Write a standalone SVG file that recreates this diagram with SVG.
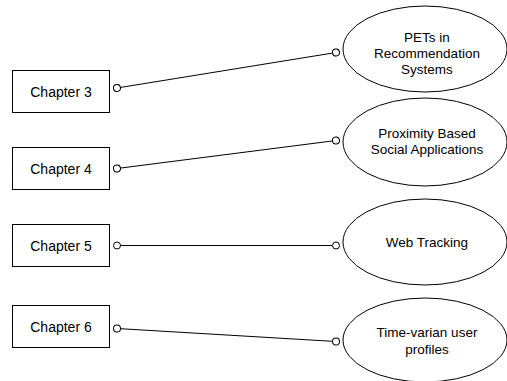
<svg xmlns="http://www.w3.org/2000/svg" width="507" height="381" viewBox="0 0 507 381">
  <style>
    .box { fill: #ffffff; stroke: #000000; stroke-width: 1; }
    .oval { fill: #ffffff; stroke: #000000; stroke-width: 1; }
    .lbl { font-family: "Liberation Sans", Arial, Helvetica, sans-serif; fill: #000000; text-anchor: middle; }
    .chap { font-size: 14px; }
    .topic { font-size: 13.5px; }
    .link { fill: none; stroke: #000000; stroke-width: 1; marker-start: url(#dot); marker-end: url(#dot); }
  </style>
  <defs>
    <marker id="dot" viewBox="-5 -5 10 10" markerWidth="10" markerHeight="10" refX="0" refY="0" markerUnits="userSpaceOnUse" orient="auto">
      <circle cx="0" cy="0" r="3.5" fill="#ffffff" stroke="#000000" stroke-width="1"/>
    </marker>
  </defs>
  <rect width="507" height="381" fill="#ffffff"/>

  <!-- chapter boxes -->
  <g id="chapter3">
    <rect class="box" x="12.5" y="70.5" width="97" height="42"/>
    <text class="lbl chap" x="61" y="96.5">Chapter 3</text>
  </g>
  <g id="chapter4">
    <rect class="box" x="12.5" y="147.5" width="97" height="42"/>
    <text class="lbl chap" x="61" y="173.5">Chapter 4</text>
  </g>
  <g id="chapter5">
    <rect class="box" x="12.5" y="224.5" width="97" height="42"/>
    <text class="lbl chap" x="61" y="250.5">Chapter 5</text>
  </g>
  <g id="chapter6">
    <rect class="box" x="12.5" y="305.5" width="97" height="42"/>
    <text class="lbl chap" x="61" y="331.5">Chapter 6</text>
  </g>

  <!-- topic ellipses -->
  <g id="topic-pets">
    <ellipse class="oval" cx="425" cy="49" rx="82" ry="43"/>
    <text class="lbl topic" x="427" y="41.5">PETs in</text>
    <text class="lbl topic" x="427" y="57.5">Recommendation</text>
    <text class="lbl topic" x="427" y="73.5">Systems</text>
  </g>
  <g id="topic-proximity">
    <ellipse class="oval" cx="425" cy="142" rx="82" ry="44"/>
    <text class="lbl topic" x="427" y="138">Proximity Based</text>
    <text class="lbl topic" x="427" y="154">Social Applications</text>
  </g>
  <g id="topic-tracking">
    <ellipse class="oval" cx="425" cy="242" rx="82" ry="43"/>
    <text class="lbl topic" x="427" y="247">Web Tracking</text>
  </g>
  <g id="topic-profiles">
    <ellipse class="oval" cx="425" cy="340" rx="82" ry="42"/>
    <text class="lbl topic" x="427" y="336.5">Time-varian user</text>
    <text class="lbl topic" x="427" y="353.5">profiles</text>
  </g>

  <!-- connectors -->
  <g id="connectors">
    <line class="link" x1="117" y1="88" x2="336" y2="52.5"/>
    <line class="link" x1="117" y1="168.5" x2="336" y2="140.5"/>
    <line class="link" x1="117" y1="245.5" x2="336" y2="245.5"/>
    <line class="link" x1="117" y1="328.5" x2="336" y2="341.5"/>
  </g>
</svg>
